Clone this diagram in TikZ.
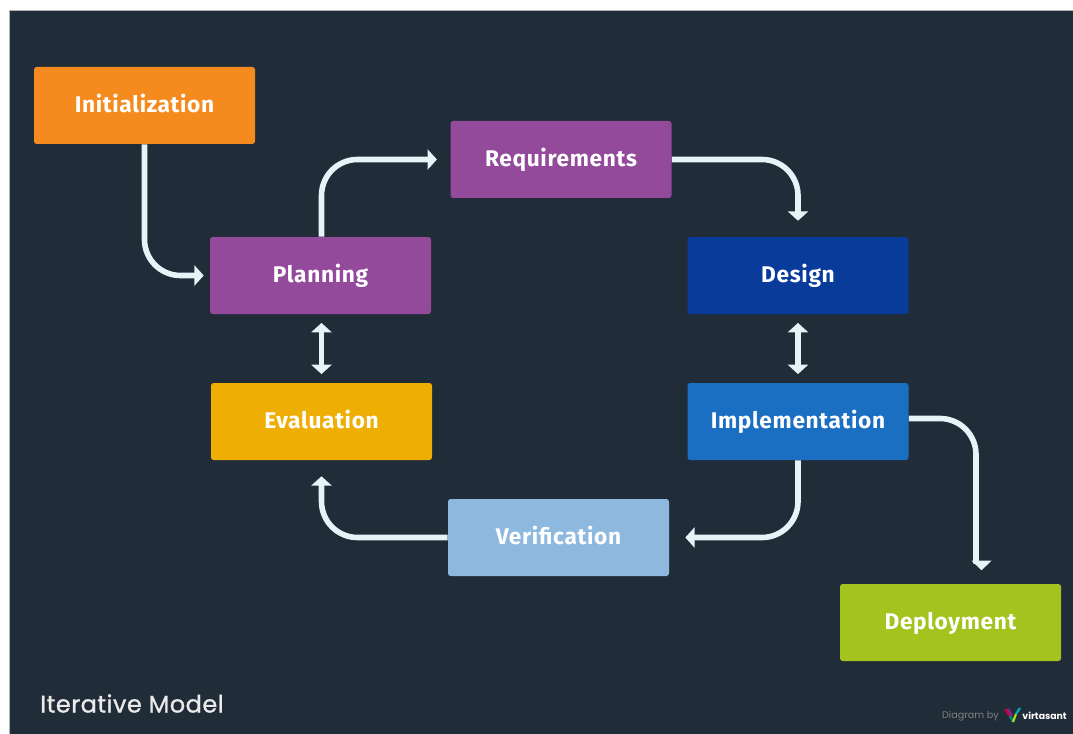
\documentclass[tikz,border=0pt]{standalone}
\usepackage{fontspec}
\setmainfont[LetterSpace=3]{Fira Sans}
\newfontfamily\titlefont[FakeBold=1,LetterSpace=2]{Poppins}
\newfontfamily\creditfont{Poppins}
\usetikzlibrary{arrows.meta,positioning,calc}

\definecolor{bgdark}{HTML}{202C38}
\definecolor{flowline}{HTML}{E6F4F8}
\definecolor{cinit}{HTML}{F58A1F}
\definecolor{cpurple}{HTML}{934A9A}
\definecolor{cdesign}{HTML}{083B9A}
\definecolor{cimpl}{HTML}{1B6FC2}
\definecolor{cverif}{HTML}{8DB8DF}
\definecolor{ceval}{HTML}{EFAE03}
\definecolor{cdeploy}{HTML}{A5C31E}

\tikzset{
  phase/.style={rectangle,rounded corners=2pt,minimum width=165.75pt,minimum height=57.75pt,
    inner sep=0pt,text=white,text height=13pt,text depth=2.1pt,
    font=\fontsize{17}{20}\selectfont\bfseries},
  flow/.style={draw=flowline,line width=4.2pt,rounded corners=27pt,
    -{Triangle[length=7pt,width=15pt]},shorten >=#1},
  flow/.default=12pt,
  both/.style={draw=flowline,line width=4.2pt,
    {Triangle[length=7pt,width=15pt]}-{Triangle[length=7pt,width=15pt]},shorten >=6.5pt,shorten <=6.5pt},
}

\begin{document}
\begin{tikzpicture}[x=0.75pt,y=-0.75pt]
  \useasboundingbox (0,0) rectangle (1073,734);
  \fill[white] (0,0) rectangle (1073,734);
  \filldraw[fill=bgdark,draw=gray!60,line width=0.4pt] (9,10) rectangle (1074,735);

  % phases
  \node[phase,fill=cinit] (init) at (144.5,105.5) {Initialization};
  \node[phase,fill=cpurple] (plan) at (320.5,275.5) {Planning};
  \node[phase,fill=cpurple] (req) at (561,159.5) {Requirements};
  \node[phase,fill=cdesign] (design) at (798,275.5) {Design};
  \node[phase,fill=cimpl] (impl) at (798,421.5) {Implementation};
  \node[phase,fill=cverif] (verif) at (558.5,537.5) {Verification};
  \node[phase,fill=ceval] (eval) at (321.5,421.5) {Evaluation};
  \node[phase,fill=cdeploy] (deploy) at (950.5,622.5) {Deployment};

  \coordinate (implout) at ($(impl.east)+(0,-3)$);
  \coordinate (deployin) at ($(deploy.north)+(25.5,-20)$);
  \coordinate (deploytip) at ($(deploy.north)+(31,-13.5)$);

  % links
  \draw[flow=4.5pt] (init.south) |- (plan.west);
  \draw[flow=10pt] (plan.north -| eval.north) |- (req.west);
  \draw[flow] (req.east) -| (design.north);
  \draw[flow] (impl.south) |- (verif.east);
  \draw[flow] (verif.west) -| (eval.south);
  \draw[draw=flowline,line width=4.2pt,rounded corners=27pt] (implout) -| (deployin);
  \fill[flowline] (deploytip) -- ++(-10,-9.5) -- ++(20,0) -- cycle;
  \draw[both] (plan.south -| eval.north) -- (eval.north);
  \draw[both] (design.south) -- (impl.north);

  % captions
  \node[anchor=west,inner sep=0pt,text=white!92!black,font=\titlefont\fontsize{18}{20}\selectfont] (title) at (40,703.5) {Iterative Model};
  \node[anchor=east,text=white,font=\creditfont\bfseries\fontsize{7}{8}\selectfont,inner sep=0pt] (brand) at (1067,716) {virtasant};
  \node[anchor=east,text=gray,font=\creditfont\fontsize{7.2}{8}\selectfont,inner sep=0pt] (by) at (999,716) {Diagram by};

  % logo
  \draw[line width=2pt,draw=red!50!violet] (1005,709) -- (1010,716);
  \draw[line width=2pt,draw=violet!70!gray] (1008,709) -- (1012,716);
  \draw[line width=2pt,draw=teal] (1010,716) -- (1013,722);
  \draw[line width=1.6pt,draw=yellow!70!green] (1013,722) -- (1016,714);
  \draw[line width=1.6pt,draw=teal!60!cyan] (1016,714) -- (1020,708);
\end{tikzpicture}
\end{document}
